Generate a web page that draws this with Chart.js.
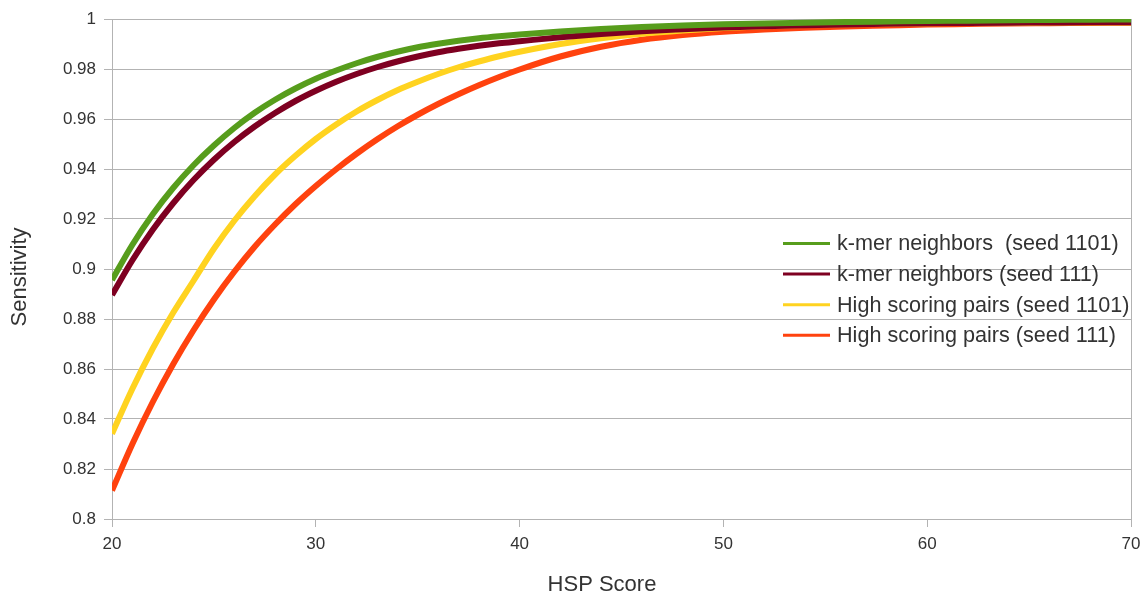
<!DOCTYPE html>
<html>
<head>
<meta charset="utf-8">
<script src="https://cdn.jsdelivr.net/npm/chart.js@4.4.1/dist/chart.umd.min.js"></script>
<style>
  body { margin: 0; background: #fff; }
  canvas { display: block; }
</style>
</head>
<body>
<canvas id="sensChart" width="1142" height="596"></canvas>
<script>
// HSP score on x, sensitivity on y
var scores = [20, 21, 22, 23, 24, 25, 26, 27, 28, 29, 30, 31, 32, 33, 34, 35, 36, 37, 38, 39, 40,
              42, 44, 46, 48, 50, 52, 54, 56, 58, 60, 62, 64, 66, 68, 70];

var kmer1101 = [0.8956, 0.9097, 0.9219, 0.9324, 0.9415, 0.9494, 0.9564, 0.9625, 0.9677, 0.9722, 0.9761,
                0.9794, 0.9823, 0.9848, 0.9869, 0.9887, 0.9901, 0.9913, 0.9923, 0.9931, 0.9938,
                0.9950, 0.9960, 0.9968, 0.9974, 0.9979, 0.9982, 0.9985, 0.9988, 0.9990, 0.9992,
                0.9993, 0.9995, 0.9996, 0.9997, 0.9998];
var kmer111 = [0.8896, 0.9035, 0.9157, 0.9263, 0.9356, 0.9437, 0.9508, 0.9570, 0.9624, 0.9672, 0.9713,
               0.9749, 0.9780, 0.9807, 0.9830, 0.9850, 0.9867, 0.9881, 0.9893, 0.9903, 0.9911,
               0.9927, 0.9940, 0.9951, 0.9959, 0.9966, 0.9971, 0.9975, 0.9978, 0.9981, 0.9983,
               0.9984, 0.9985, 0.9986, 0.9987, 0.9987];
var hsp1101 = [0.8341, 0.8521, 0.8682, 0.8825, 0.8953, 0.9081, 0.9193, 0.9291, 0.9378, 0.9453, 0.9520,
               0.9578, 0.9630, 0.9675, 0.9715, 0.9749, 0.9780, 0.9807, 0.9830, 0.9851, 0.9869,
               0.9900, 0.9923, 0.9941, 0.9954, 0.9964, 0.9971, 0.9976, 0.9979, 0.9981, 0.9983,
               0.9984, 0.9985, 0.9986, 0.9986, 0.9986];
var hsp111 = [0.8114, 0.8300, 0.8468, 0.8619, 0.8755, 0.8878, 0.8989, 0.9089, 0.9178, 0.9259, 0.9332,
              0.9399, 0.9461, 0.9518, 0.9570, 0.9617, 0.9660, 0.9699, 0.9735, 0.9768, 0.9798,
              0.9850, 0.9889, 0.9917, 0.9936, 0.9949, 0.9958, 0.9965, 0.9970, 0.9974, 0.9978,
              0.9980, 0.9982, 0.9983, 0.9984, 0.9985];

var seriesLabels = ['k-mer neighbors  (seed 1101)', 'k-mer neighbors (seed 111)',
                    'High scoring pairs (seed 1101)', 'High scoring pairs (seed 111)'];
var yTickLabels = ['0.8', '0.82', '0.84', '0.86', '0.88', '0.9', '0.92', '0.94', '0.96', '0.98', '1'];
var xTickLabels = ['20', '30', '40', '50', '60', '70'];
var xTitle = 'HSP Score';
var yTitle = 'Sensitivity';

var FONT = '"Liberation Sans", Arial, sans-serif';
var GRID = '#b3b3b3';
var TEXT = '#333333';

function toPoints(values) {
  return scores.map(function(s, i) { return { x: s, y: values[i] }; });
}

function lineSet(label, values, color) {
  return {
    label: label,
    data: toPoints(values),
    borderColor: color,
    backgroundColor: color,
    borderWidth: 6,
    pointRadius: 0,
    cubicInterpolationMode: 'monotone',
    fill: false
  };
}

// legend and axis titles drawn over the plot, like the original
var overlay = {
  id: 'overlay',
  afterDraw: function(chart) {
    var ctx = chart.ctx;
    var area = chart.chartArea;
    ctx.save();
    ctx.fillStyle = TEXT;

    ctx.font = '22px ' + FONT;
    ctx.textAlign = 'center';
    ctx.textBaseline = 'middle';
    ctx.fillText(xTitle, 602, 585);
    ctx.save();
    ctx.translate(20, 277);
    ctx.rotate(-Math.PI / 2);
    ctx.fillText(yTitle, 0, 0);
    ctx.restore();

    ctx.font = '21.6px ' + FONT;
    ctx.textAlign = 'left';
    var lx = area.left + 671;
    chart.data.datasets.forEach(function(ds, i) {
      var y = 243.5 + i * 30.6;
      ctx.strokeStyle = ds.borderColor;
      ctx.lineWidth = 3;
      ctx.beginPath();
      ctx.moveTo(lx, y);
      ctx.lineTo(lx + 47, y);
      ctx.stroke();
      ctx.fillStyle = TEXT;
      ctx.fillText(ds.label, lx + 54, y + 1);
    });
    ctx.restore();
  }
};

var chart = new Chart(document.getElementById('sensChart'), {
  type: 'line',
  data: {
    datasets: [
      lineSet(seriesLabels[0], kmer1101, '#579d1c'),
      lineSet(seriesLabels[1], kmer111, '#7e0021'),
      lineSet(seriesLabels[2], hsp1101, '#ffd320'),
      lineSet(seriesLabels[3], hsp111, '#ff420e')
    ]
  },
  options: {
    responsive: false,
    animation: false,
    layout: { padding: { top: 19, right: 11, left: 0, bottom: 0 } },
    plugins: {
      legend: { display: false },
      tooltip: { enabled: false }
    },
    scales: {
      x: {
        type: 'linear',
        min: 20,
        max: 70,
        afterFit: function(scale) {
          scale.height = 77;
          scale.paddingLeft = 0;
          scale.paddingRight = 0;
        },
        ticks: {
          stepSize: 10,
          padding: 7,
          color: TEXT,
          font: { family: FONT, size: 17 },
          maxRotation: 0,
          callback: function(v, i) { return xTickLabels[i]; }
        },
        grid: {
          color: function(c) { return c.tick && c.tick.value === 70 ? GRID : 'rgba(0,0,0,0)'; },
          tickColor: GRID,
          tickLength: 8,
          lineWidth: 1
        },
        border: { color: GRID }
      },
      y: {
        min: 0.8,
        max: 1,
        afterFit: function(scale) {
          scale.width = 112;
          scale.paddingTop = 0;
          scale.paddingBottom = 0;
        },
        ticks: {
          stepSize: 0.02,
          padding: 8,
          color: TEXT,
          font: { family: FONT, size: 17 },
          callback: function(v, i) { return yTickLabels[i]; }
        },
        grid: {
          color: GRID,
          tickColor: GRID,
          tickLength: 8,
          lineWidth: 1
        },
        border: { color: GRID }
      }
    }
  },
  plugins: [overlay]
});
</script>
</body>
</html>
